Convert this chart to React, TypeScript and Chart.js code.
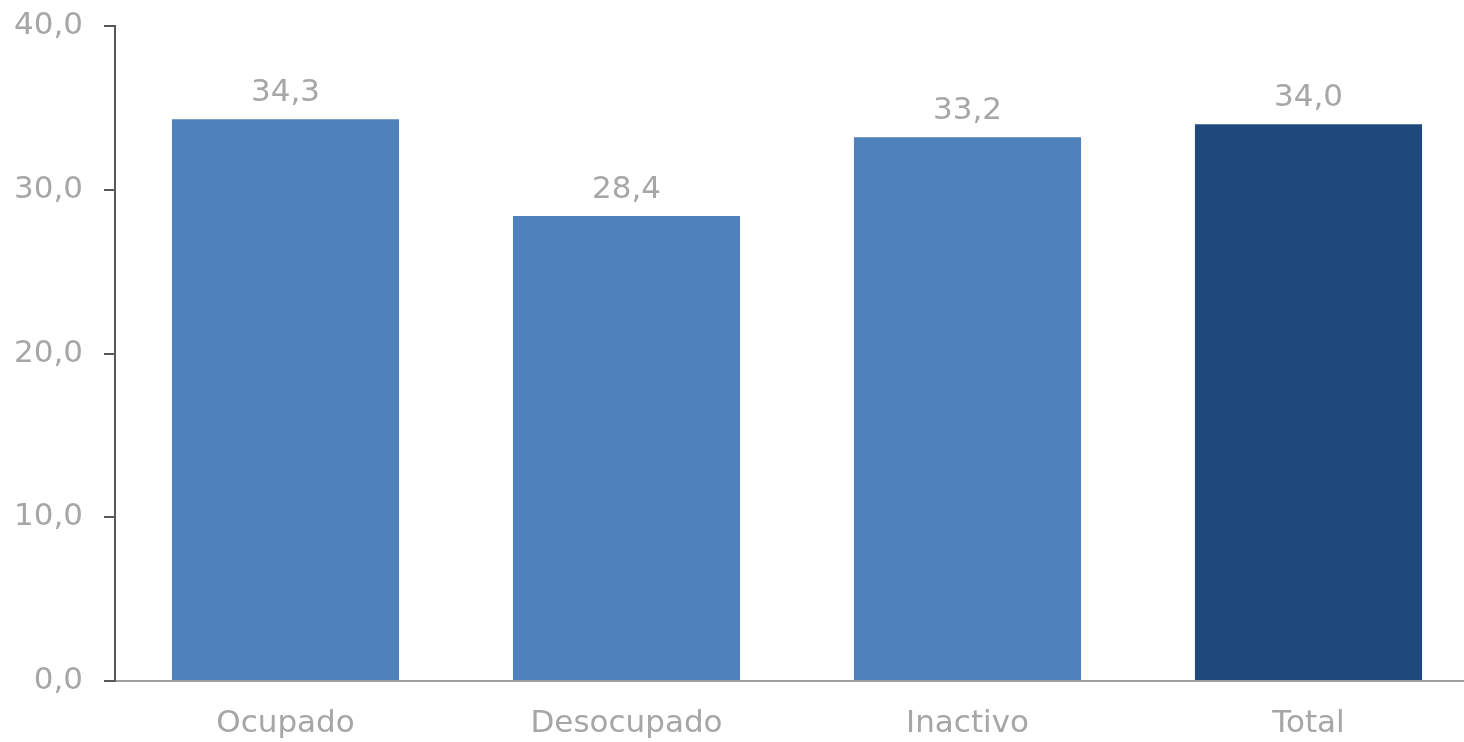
import React, { useEffect, useRef } from "react";
import { Chart, registerables } from "chart.js";

Chart.register(...registerables);

const categories = ["Ocupado", "Desocupado", "Inactivo", "Total"];
const values = [34.3, 28.4, 33.2, 34.0];
const barColors = ["#4f81bd", "#4f81bd", "#4f81bd", "#1f497d"];
const yTicks = [0, 10, 20, 30, 40];

const FONT = "'DejaVu Sans', Verdana, sans-serif";
const TEXT = "#a6a6a6";
const SIZE = 31;

const fmt = (v: number) => v.toFixed(1).replace(".", ",");

const labelPlugin = {
  id: "valueLabels",
  afterDatasetsDraw(chart: any) {
    const ctx = chart.ctx;
    const meta = chart.getDatasetMeta(0);
    ctx.save();
    ctx.font = `${SIZE}px ${FONT}`;
    ctx.fillStyle = TEXT;
    ctx.textAlign = "center";
    ctx.textBaseline = "alphabetic";
    meta.data.forEach((bar: any, i: number) => {
      ctx.fillText(fmt(values[i]), bar.x, bar.y - 18);
    });
    ctx.restore();
  },
};

export default function App() {
  const ref = useRef<HTMLCanvasElement>(null);
  useEffect(() => {
    document.body.style.margin = "0";
    const chart = new Chart(ref.current!, {
      type: "bar",
      data: {
        labels: categories,
        datasets: [
          {
            data: values,
            backgroundColor: barColors,
            borderWidth: 0,
            categoryPercentage: 1,
            barPercentage: 0.666,
          },
        ],
      },
      options: {
        animation: false,
        responsive: true,
        maintainAspectRatio: false,
        layout: { padding: { top: 26, right: 0, left: 0, bottom: 0 } },
        plugins: { legend: { display: false }, tooltip: { enabled: false } },
        scales: {
          x: {
            grid: { display: false },
            border: { display: true, color: "#a0a0a0", width: 2 },
            ticks: {
              color: TEXT,
              font: { family: FONT, size: SIZE },
              padding: 16,
            },
            afterFit(scale: any) {
              scale.height = 61;
              scale.paddingLeft = 0;
              scale.paddingRight = 0;
            },
          },
          y: {
            min: 0,
            max: 40,
            afterBuildTicks(scale: any) {
              scale.ticks = yTicks.map((v) => ({ value: v }));
            },
            grid: {
              drawOnChartArea: false,
              drawTicks: true,
              tickLength: 11,
              color: "#595959",
              lineWidth: 2,
            },
            border: { display: true, color: "#595959", width: 2 },
            ticks: {
              color: TEXT,
              font: { family: FONT, size: SIZE },
              padding: 21,
              callback: (v: any) => fmt(Number(v)),
            },
            afterFit(scale: any) {
              scale.width = 115;
              scale.paddingTop = 0;
              scale.paddingBottom = 0;
            },
          },
        },
      },
      plugins: [labelPlugin],
    });
    return () => chart.destroy();
  }, []);
  return (
    <div style={{ position: "fixed", left: 0, top: 0, width: 1464, height: 742, overflow: "hidden" }}>
      <div style={{ position: "relative", width: 1479, height: 742 }}>
        <canvas ref={ref} />
      </div>
    </div>
  );
}
